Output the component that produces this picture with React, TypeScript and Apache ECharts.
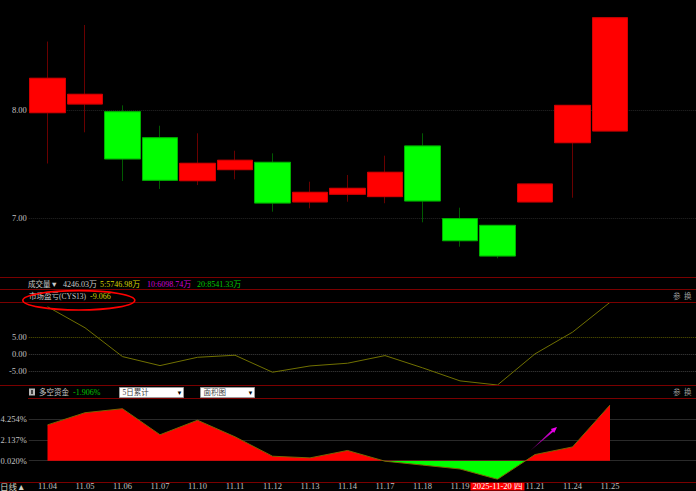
import React, { useEffect, useRef } from 'react';
import * as echarts from 'echarts';

// ---- data ----
const categories = ['11.04', '11.05', '11.06', '11.07', '11.10', '11.11', '11.12', '11.13', '11.14', '11.17', '11.18', '11.19', '2025-11-20 四', '11.21', '11.24', '11.25'];
const highlightIndex = 12;
const padCategories = ['', ''];
const opens = [7.975, 8.055, 7.984, 7.744, 7.347, 7.449, 7.517, 7.151, 7.222, 7.2, 7.668, 6.997, 6.935, 7.151, 7.698, 7.806];
const closes = [8.293, 8.145, 7.548, 7.351, 7.508, 7.536, 7.141, 7.24, 7.277, 7.425, 7.16, 6.793, 6.652, 7.317, 8.043, 8.852];
const lows = [7.506, 7.794, 7.344, 7.271, 7.307, 7.36, 7.061, 7.092, 7.153, 7.139, 6.963, 6.738, 6.631, 7.151, 7.19, 7.806];
const highs = [8.632, 8.785, 8.043, 7.855, 7.785, 7.624, 7.6, 7.338, 7.4, 7.578, 7.785, 7.098, 6.935, 7.317, 8.043, 8.852];
const cysValues = [14.0, 7.8, -0.7, -3.35, -0.9, -0.3, -5.3, -3.45, -2.65, -0.4, -4.0, -7.85, -9.066, 0.1, 6.5, 15.3];
const fundValues = [3.67, 4.92, 5.33, 2.66, 4.15, 2.45, 0.46, 0.29, 1.05, -0.05, -0.45, -0.85, -1.906, 0.63, 1.41, 5.71];
const priceTicks = [8, 7];
const cysTicks = [5, 0, -5];
const fundTicks = [4.254, 2.137, 0.02];
const volumeHeader = { name: '成交量▼', last: '4246.03万', ma5: '5:5746.98万', ma10: '10:6098.74万', ma20: '20:8541.33万' };
const cysHeader = { name: '市场盈亏(CYS13)', value: '-9.066' };
const fundHeader = { name: '多空资金', value: '-1.906%', mode: '5日累计', type: '面积图' };

const FONT = '"Liberation Serif", "Noto Sans CJK SC", serif';
const FS = 8.5;
const NFS = 7.5;
const VFS = 8;
const LABEL = '#c0c0c0';
const SEP = '#7a0000';

export default function App() {
  const ref = useRef<HTMLDivElement>(null);
  useEffect(() => {
    if (!ref.current) return;
    const chart = echarts.init(ref.current, null, { renderer: 'svg' });
    const allCats = categories.concat(padCategories);
    const full = categories.map((_, i) => [opens[i], closes[i], lows[i], highs[i]]);
    const bodies = categories.map((_, i) => [opens[i], closes[i], Math.min(opens[i], closes[i]), Math.max(opens[i], closes[i])]);

    const gridCommon = { left: 28.75, width: 675, containLabel: false, outerBoundsMode: 'none' };
    const xBase = (gi: number, showLabel: boolean) => ({
      type: 'category', gridIndex: gi, data: allCats, boundaryGap: true,
      axisLine: { show: false }, axisTick: { show: false }, splitLine: { show: false },
      axisLabel: showLabel ? {
        interval: 0, margin: 2.5, color: LABEL, fontSize: FS, fontFamily: FONT, hideOverlap: false, lineHeight: 9,
        formatter: (v: string, i: number) => (i === highlightIndex ? `{hl|${v}}` : v),
        rich: { hl: { backgroundColor: '#ff0000', color: '#ffffff', padding: [0, 2, 0, 2], lineHeight: 9, fontSize: FS, fontFamily: FONT } },
      } : { show: false },
    });
    const yBase = (gi: number, min: number, max: number) => ({
      type: 'value', gridIndex: gi, min, max, scale: true,
      axisLine: { show: false }, axisTick: { show: false }, splitLine: { show: false }, axisLabel: { show: false },
    });
    const mkLabel = { position: 'start', distance: 2, color: LABEL, fontSize: FS, fontFamily: FONT };
    const hLines = (vals: number[], fmt: (v: number) => string, style: (v: number) => any) => ({
      silent: true, symbol: ['none', 'none'], z: 1,
      label: mkLabel,
      data: vals.map((v) => ({ yAxis: v, label: { ...mkLabel, formatter: fmt(v) }, lineStyle: style(v) })),
    });
    const txt = (x: number, y: number, text: string, fill: string, fs = VFS, extra: any = {}) => ({
      type: 'text', x, y, z: 20, silent: true,
      style: { text, fill, fontSize: fs, fontFamily: FONT, verticalAlign: 'middle', ...extra },
    });

    const option: any = {
      animation: false,
      backgroundColor: '#000000',
      grid: [
        { ...gridCommon, top: 1.7, height: 270.75 },
        { ...gridCommon, top: 302.3, height: 82.7 },
        { ...gridCommon, top: 405, height: 74.3 },
      ],
      xAxis: [xBase(0, false), xBase(1, false), xBase(2, true)],
      yAxis: [yBase(0, 6.5, 9.0), yBase(1, -9.066, 15.3), yBase(2, -1.906, 5.71)],
      visualMap: [{
        show: false, type: 'piecewise', seriesIndex: 4, dimension: 1,
        pieces: [{ gte: -1000, lte: 0, color: '#00ff00' }, { gt: 0, lte: 1000, color: '#ff0000' }],
      }],
      series: [
        {
          type: 'candlestick', xAxisIndex: 0, yAxisIndex: 0, barWidth: 36, z: 3,
          data: full,
          itemStyle: { color: '#ff0000', color0: '#00ff00', borderColor: '#6a0000', borderColor0: '#005a00', borderWidth: 1 },
        },
        {
          type: 'candlestick', xAxisIndex: 0, yAxisIndex: 0, barWidth: 36, z: 4,
          data: bodies,
          itemStyle: { color: '#ff0000', color0: '#00ff00', borderColor: '#d00000', borderColor0: '#00b000', borderWidth: 1 },
        },
        {
          type: 'line', xAxisIndex: 0, yAxisIndex: 0, symbol: 'none', z: 1, data: [],
          markLine: hLines(priceTicks, (v) => v.toFixed(2), () => ({ color: '#262626', type: 'dotted', width: 1 })),
        },
        {
          type: 'line', xAxisIndex: 1, yAxisIndex: 1, symbol: 'none', z: 3,
          data: cysValues,
          lineStyle: { color: '#707000', width: 1 },
          markLine: hLines(cysTicks, (v) => v.toFixed(2), (v) => ({ color: v === 5 ? '#5a5a00' : '#404040', type: 'dotted', width: 1 })),
        },
        {
          type: 'line', xAxisIndex: 2, yAxisIndex: 2, symbol: 'none', z: 3,
          data: fundValues,
          lineStyle: { width: 0 },
          areaStyle: { opacity: 1 },
        },
        {
          type: 'line', xAxisIndex: 2, yAxisIndex: 2, symbol: 'none', z: 4,
          data: fundValues,
          lineStyle: { color: '#7a6400', width: 1 },
          markLine: hLines(fundTicks, (v) => v.toFixed(3) + '%', () => ({ color: '#2a2a2a', type: 'solid', width: 1 })),
        },
      ],
      graphic: [
        ...[277.5, 289.5, 302.5, 385.5, 482.5].map((y) => ({
          type: 'line', silent: true, z: 10, shape: { x1: 0, y1: y, x2: 696, y2: y }, style: { stroke: SEP, lineWidth: 1 },
        })),
        { type: 'line', silent: true, z: 10, shape: { x1: 28, y1: 398.5, x2: 696, y2: 398.5 }, style: { stroke: SEP, lineWidth: 1 } },
        txt(28, 284, volumeHeader.name, '#c8c8c8', NFS),
        txt(63, 284, volumeHeader.last, '#c8c8c8'),
        txt(100, 284, volumeHeader.ma5, '#d4d400'),
        txt(147, 284, volumeHeader.ma10, '#d000d0'),
        txt(197, 284, volumeHeader.ma20, '#00c800'),
        txt(29, 296.5, cysHeader.name, '#c8c8c8', NFS),
        txt(90, 296.5, cysHeader.value, '#d4d400'),
        {
          type: 'ellipse', z: 21, silent: true,
          shape: { cx: 78.8, cy: 300.3, rx: 56, ry: 9.7 },
          style: { fill: 'none', stroke: '#ff0000', lineWidth: 1.6 },
        },
        ...[296, 392].flatMap((y) => [
          txt(673, y, '参', '#9a9a9a', 7.5),
          txt(684, y, '换', '#9a9a9a', 7.5),
        ]),
        { type: 'rect', z: 20, silent: true, shape: { x: 29, y: 388.5, width: 6, height: 7 }, style: { fill: '#b8b8b8' } },
        { type: 'rect', z: 21, silent: true, shape: { x: 31, y: 390, width: 2, height: 4 }, style: { fill: '#404040' } },
        txt(39, 392.5, fundHeader.name, '#c8c8c8', NFS),
        txt(73, 392.5, fundHeader.value, '#00c800'),
        ...[{ x: 119.5, w: 64, t: fundHeader.mode }, { x: 200.5, w: 54, t: fundHeader.type }].flatMap((b) => [
          { type: 'rect', z: 20, silent: true, shape: { x: b.x, y: 387.5, width: b.w, height: 10 }, style: { fill: '#ffffff', stroke: '#9a9a9a', lineWidth: 1 } },
          txt(b.x + 3, 392.7, b.t, '#404040', 7.5),
          txt(b.x + b.w - 4, 392.7, '▼', '#000000', 6, { align: 'center' }),
        ]),
        {
          type: 'polygon', z: 20, silent: true,
          shape: { points: [[530, 451], [553.2, 431.7], [554.2, 432.9], [557, 427], [550.8, 429.1], [551.8, 430.3]] },
          style: {
            fill: new echarts.graphic.LinearGradient(0, 1, 1, 0, [
              { offset: 0, color: '#500050' },
              { offset: 1, color: '#ff00ff' },
            ]),
          },
        },
        txt(0, 486.5, '日线▲', '#d0d0c0', FS),
      ],
    };
    chart.setOption(option);
    return () => chart.dispose();
  }, []);
  return <div ref={ref} style={{ position: 'fixed', left: 0, top: 0, width: 696, height: 491, background: '#000' }} />;
}
